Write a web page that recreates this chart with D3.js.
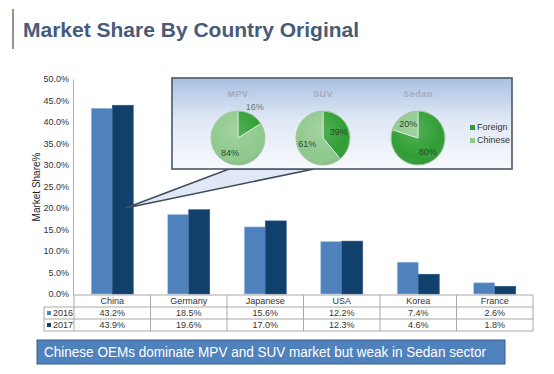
<!DOCTYPE html>
<html>
<head>
<meta charset="utf-8">
<script src="https://cdn.jsdelivr.net/npm/d3@7"></script>
<style>
  body { margin: 0; background: #fff; }
  svg { font-family: Arial, "Liberation Sans", sans-serif; }
</style>
</head>
<body>
<div id="chart"></div>
<script>
const categories = ['China', 'Germany', 'Japanese', 'USA', 'Korea', 'France'];
const share2016 = [43.2, 18.5, 15.6, 12.2, 7.4, 2.6];
const share2017 = [43.9, 19.6, 17.0, 12.3, 4.6, 1.8];
const years = ['2016', '2017'];
const yTicks = [0, 5, 10, 15, 20, 25, 30, 35, 40, 45, 50];

const segments = ['MPV', 'SUV', 'Sedan'];
const foreignShare = [16, 39, 80];
const chineseShare = [84, 61, 20];

const W = 554, H = 374;
const plot = { left: 74, right: 533, top: 79, bottom: 295 };

const svg = d3.select('#chart').append('svg')
    .attr('width', W)
    .attr('height', H);

const defs = svg.append('defs');

const boxGrad = defs.append('linearGradient').attr('id', 'boxGrad')
    .attr('x1', 0).attr('y1', 0).attr('x2', 0).attr('y2', 1);
boxGrad.append('stop').attr('offset', '0%').attr('stop-color', '#a9c0e2');
boxGrad.append('stop').attr('offset', '45%').attr('stop-color', '#dfe8f5');
boxGrad.append('stop').attr('offset', '100%').attr('stop-color', '#f7f9fd');

const shine = defs.append('radialGradient').attr('id', 'shine')
    .attr('cx', '45%').attr('cy', '35%').attr('r', '70%');
shine.append('stop').attr('offset', '0%').attr('stop-color', '#fff').attr('stop-opacity', 0.18);
shine.append('stop').attr('offset', '70%').attr('stop-color', '#fff').attr('stop-opacity', 0);
shine.append('stop').attr('offset', '100%').attr('stop-color', '#000').attr('stop-opacity', 0.12);

// title
svg.append('line')
    .attr('x1', 13).attr('x2', 13)
    .attr('y1', 9).attr('y2', 49)
    .attr('stroke', '#5d7e5a')
    .attr('stroke-width', 1.5);

svg.append('text')
    .attr('x', 23)
    .attr('y', 37)
    .attr('font-size', 21)
    .attr('font-weight', 'bold')
    .attr('fill', '#475b79')
    .text('Market Share By Country Original');

// scales
const x0 = d3.scaleBand()
    .domain(categories)
    .range([plot.left, plot.right]);

const x1 = d3.scaleBand()
    .domain(years)
    .range([0, 42]);

const y = d3.scaleLinear()
    .domain([0, 50])
    .range([plot.bottom - 1, plot.top]);

const colors = { '2016': '#4f81bd', '2017': '#11406d' };

// y axis
const yAxis = d3.axisLeft(y)
    .tickValues(yTicks)
    .tickFormat(d => d3.format('.1f')(d) + '%')
    .tickSize(0)
    .tickPadding(4);

const yAxisG = svg.append('g')
    .attr('transform', `translate(${plot.left - 1},0)`)
    .call(yAxis);
yAxisG.select('.domain').attr('stroke', '#b0b0b0');
yAxisG.selectAll('text').attr('font-size', 9).attr('fill', '#333')
    .attr('font-family', 'Arial, "Liberation Sans", sans-serif');

svg.append('text')
    .attr('transform', `translate(40,${(plot.top + plot.bottom) / 2}) rotate(-90)`)
    .attr('text-anchor', 'middle')
    .attr('font-size', 10)
    .attr('fill', '#222')
    .text('Market Share%');

// bars
const rows = categories.map((c, i) => ({ category: c, values: [share2016[i], share2017[i]] }));

const groups = svg.append('g').selectAll('g').data(rows)
  .enter().append('g')
    .attr('transform', d => `translate(${x0(d.category) + (x0.bandwidth() - 42) / 2},0)`);

groups.selectAll('rect').data(d => d.values.map((v, j) => ({ year: years[j], value: v })))
  .enter().append('rect')
    .attr('x', d => x1(d.year))
    .attr('width', x1.bandwidth())
    .attr('y', d => y(d.value))
    .attr('height', d => y(0) - y(d.value))
    .attr('fill', d => colors[d.year])
    .attr('stroke', d => d.year === '2016' ? '#a9c4e6' : '#2c5a88')
    .attr('stroke-width', 0.6);

// data table
const table = svg.append('g');
const rowH = 12;
const tTop = plot.bottom;
const lineColor = '#a8a8a8';

table.append('line')
    .attr('x1', plot.left - 1).attr('x2', plot.right)
    .attr('y1', tTop).attr('y2', tTop)
    .attr('stroke', lineColor);
[1, 2, 3].forEach(k => {
    table.append('line')
        .attr('x1', 44).attr('x2', plot.right)
        .attr('y1', tTop + rowH * k).attr('y2', tTop + rowH * k)
        .attr('stroke', lineColor);
});
table.append('line')
    .attr('x1', 44).attr('x2', 44)
    .attr('y1', tTop + rowH).attr('y2', tTop + rowH * 3)
    .attr('stroke', lineColor);

const bounds = categories.map(c => x0(c)).concat([plot.right]);
table.selectAll('.col-line').data(bounds)
  .enter().append('line')
    .attr('class', 'col-line')
    .attr('x1', d => d).attr('x2', d => d)
    .attr('y1', tTop).attr('y2', tTop + rowH * 3)
    .attr('stroke', lineColor);

table.selectAll('.cat-label').data(categories)
  .enter().append('text')
    .attr('class', 'cat-label')
    .attr('x', d => x0(d) + x0.bandwidth() / 2)
    .attr('y', tTop + 9)
    .attr('text-anchor', 'middle')
    .attr('font-size', 9)
    .attr('fill', '#333')
    .text(d => d);

[share2016, share2017].forEach((vals, r) => {
    const ty = tTop + rowH * (r + 1) + 9;
    table.append('rect')
        .attr('x', 47).attr('y', ty - 5)
        .attr('width', 4).attr('height', 4)
        .attr('fill', colors[years[r]]);
    table.append('text')
        .attr('x', 53).attr('y', ty)
        .attr('font-size', 9)
        .attr('fill', '#333')
        .text(years[r]);
    table.selectAll('.val-' + r).data(vals)
      .enter().append('text')
        .attr('x', (d, i) => x0(categories[i]) + x0.bandwidth() / 2)
        .attr('y', ty)
        .attr('text-anchor', 'middle')
        .attr('font-size', 9)
        .attr('fill', '#333')
        .text(d => d.toFixed(1) + '%');
});

// callout box
const box = { x: 172, y: 78, w: 340, h: 91 };
const tipX = x0('China') + (x0.bandwidth() - 42) / 2 + x1('2017') + x1.bandwidth() / 2 + 3;
const tipY = y(20);

svg.append('path')
    .attr('d', `M${tipX},${tipY} L229,${box.y + box.h} L314,${box.y + box.h} Z`)
    .attr('fill', '#dfe8f4')
    .attr('stroke', '#3f4c5c')
    .attr('stroke-width', 1.6)
    .attr('stroke-linejoin', 'miter');

svg.append('rect')
    .attr('x', box.x).attr('y', box.y)
    .attr('width', box.w).attr('height', box.h)
    .attr('fill', 'url(#boxGrad)')
    .attr('stroke', '#4a5867')
    .attr('stroke-width', 1.6);

// pies
const pieCenters = [238, 323, 418];
const pieY = 138;
const r = 27;
const pieColors = { Foreign: '#2f9e33', Chinese: '#8fc98d' };

const pie = d3.pie().sort(null).value(d => d.value);
const arc = d3.arc().innerRadius(0).outerRadius(r);

segments.forEach((s, i) => {
    const cx = pieCenters[i];
    const g = svg.append('g').attr('transform', `translate(${cx},${pieY})`);
    const data = [
        { key: 'Foreign', value: foreignShare[i] },
        { key: 'Chinese', value: chineseShare[i] }
    ];
    const arcs = pie(data);
    g.selectAll('path').data(arcs)
      .enter().append('path')
        .attr('d', arc)
        .attr('fill', d => pieColors[d.data.key])
        .attr('stroke', '#d6ecd4')
        .attr('stroke-width', 0.8);
    g.append('circle').attr('r', r).attr('fill', 'url(#shine)')
        .attr('stroke', '#7fae7d').attr('stroke-width', 0.6);

    g.append('text')
        .attr('y', -41)
        .attr('text-anchor', 'middle')
        .attr('font-size', 9)
        .attr('font-weight', 'bold')
        .attr('fill', '#a3adbd')
        .attr('letter-spacing', 0.5)
        .text(s);

    arcs.forEach(a => {
        const mid = (a.startAngle + a.endAngle) / 2;
        const small = a.data.value < 18;
        const rr = small ? r + 8 : r * 0.62;
        g.append('text')
            .attr('x', Math.sin(mid) * rr)
            .attr('y', -Math.cos(mid) * rr + 3)
            .attr('text-anchor', 'middle')
            .attr('font-size', 9)
            .attr('fill', small ? '#6b7a6b' : '#2e4a2e')
            .text(a.data.value + '%');
    });
});

// pie legend
const legend = svg.append('g').attr('transform', 'translate(470,130)');
['Foreign', 'Chinese'].forEach((k, i) => {
    legend.append('rect')
        .attr('x', 0).attr('y', i * 13 - 5)
        .attr('width', 5).attr('height', 5)
        .attr('fill', pieColors[k]);
    legend.append('text')
        .attr('x', 7).attr('y', i * 13)
        .attr('font-size', 9)
        .attr('fill', '#333')
        .text(k);
});

// bottom banner
svg.append('rect')
    .attr('x', 37).attr('y', 340)
    .attr('width', 468).attr('height', 24)
    .attr('fill', '#4f81bd')
    .attr('stroke', '#3a5f8a')
    .attr('stroke-width', 1);

svg.append('text')
    .attr('x', 44).attr('y', 357)
    .attr('font-size', 14)
    .attr('fill', '#fff')
    .attr('textLength', 442)
    .attr('lengthAdjust', 'spacingAndGlyphs')
    .text('Chinese OEMs dominate MPV and SUV market but weak in Sedan sector');
</script>
</body>
</html>
